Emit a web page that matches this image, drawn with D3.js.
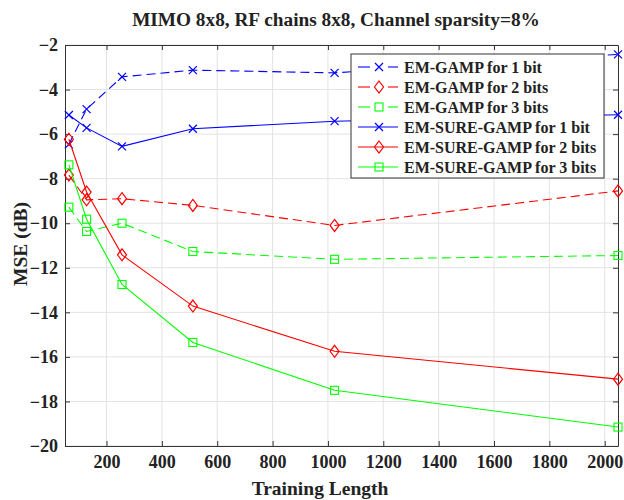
<!DOCTYPE html>
<html>
<head>
<meta charset="utf-8">
<script src="https://cdn.jsdelivr.net/npm/d3@7"></script>
<style>
  body { margin: 0; background: #fff; }
  text { font-family: "Liberation Serif", "Times New Roman", serif; font-weight: bold; fill: #222; }
</style>
</head>
<body>
<svg width="624" height="500"></svg>
<script>
const trainLen = [64, 128, 256, 512, 1024, 2048];
const gamp1 = [-6.46, -4.88, -3.43, -3.13, -3.25, -2.42];
const gamp2 = [-7.84, -8.95, -8.9, -9.2, -10.1, -8.55];
const gamp3 = [-9.28, -10.37, -10.0, -11.27, -11.62, -11.45];
const sure1 = [-5.14, -5.72, -6.55, -5.76, -5.42, -5.13];
const sure2 = [-6.23, -8.6, -11.42, -13.72, -15.75, -17.0];
const sure3 = [-7.38, -9.82, -12.75, -15.35, -17.5, -19.15];
const xTicks = [200, 400, 600, 800, 1000, 1200, 1400, 1600, 1800, 2000];
const yTicks = [-20, -18, -16, -14, -12, -10, -8, -6, -4, -2];

const series = [
    {name: "EM-GAMP for 1 bit", vals: gamp1, color: "#0000ff", dash: true, mark: "x"},
    {name: "EM-GAMP for 2 bits", vals: gamp2, color: "#ff0000", dash: true, mark: "d"},
    {name: "EM-GAMP for 3 bits", vals: gamp3, color: "#00ff00", dash: true, mark: "s"},
    {name: "EM-SURE-GAMP for 1 bit", vals: sure1, color: "#0000ff", dash: false, mark: "x"},
    {name: "EM-SURE-GAMP for 2 bits", vals: sure2, color: "#ff0000", dash: false, mark: "d"},
    {name: "EM-SURE-GAMP for 3 bits", vals: sure3, color: "#00ff00", dash: false, mark: "s"}
];

const mLeft = 65, mRight = 618, mTop = 45, mBottom = 446;
const svg = d3.select("svg");

const x = d3.scaleLinear().domain([50, 2048]).range([mLeft, mRight]);
const y = d3.scaleLinear().domain([-20, -2]).range([mBottom, mTop]);
const fmt = d3.format("d");

// grid
const g = svg.append("g");
g.selectAll(".gx").data(xTicks).enter().append("line")
    .attr("x1", d => x(d)).attr("x2", d => x(d))
    .attr("y1", mTop).attr("y2", mBottom)
    .attr("stroke", "#e3e3e3").attr("stroke-width", 1);
g.selectAll(".gy").data(yTicks).enter().append("line")
    .attr("y1", d => y(d)).attr("y2", d => y(d))
    .attr("x1", mLeft).attr("x2", mRight)
    .attr("stroke", "#e3e3e3").attr("stroke-width", 1);

// axes (ticks inside, box all around)
const axisStyle = (sel) => {
    sel.select(".domain").attr("stroke", "#333");
    sel.selectAll(".tick line").attr("stroke", "#333");
    sel.selectAll("text").attr("font-family", "Liberation Serif, serif")
        .attr("font-weight", "bold").attr("font-size", 18).attr("fill", "#222");
};
svg.append("g").attr("transform", `translate(0,${mBottom})`)
    .call(d3.axisBottom(x).tickValues(xTicks).tickFormat(fmt).tickSize(-5).tickSizeOuter(0).tickPadding(9))
    .call(axisStyle);
svg.append("g").attr("transform", `translate(0,${mTop})`)
    .call(d3.axisTop(x).tickValues(xTicks).tickSize(-5).tickSizeOuter(0).tickFormat(""))
    .call(axisStyle);
svg.append("g").attr("transform", `translate(${mLeft},0)`)
    .call(d3.axisLeft(y).tickValues(yTicks).tickFormat(fmt).tickSize(-5).tickSizeOuter(0).tickPadding(7))
    .call(axisStyle);
svg.append("g").attr("transform", `translate(${mRight},0)`)
    .call(d3.axisRight(y).tickValues(yTicks).tickSize(-5).tickSizeOuter(0).tickFormat(""))
    .call(axisStyle);

// markers
const drawMark = (sel, type, color) => {
    if (type === "x") {
        sel.append("path").attr("d", "M-4,-4L4,4M-4,4L4,-4")
            .attr("stroke", color).attr("fill", "none").attr("stroke-width", 1.2);
    } else if (type === "d") {
        sel.append("path").attr("d", "M0,-6L4.5,0L0,6L-4.5,0Z")
            .attr("stroke", color).attr("fill", "none").attr("stroke-width", 1.2);
    } else {
        sel.append("rect").attr("x", -4).attr("y", -4).attr("width", 8).attr("height", 8)
            .attr("stroke", color).attr("fill", "none").attr("stroke-width", 1.1);
    }
};

const line = d3.line().x((d, i) => x(trainLen[i])).y(d => y(d));

series.forEach(s => {
    svg.append("path").datum(s.vals)
        .attr("d", line)
        .attr("fill", "none")
        .attr("stroke", s.color)
        .attr("stroke-width", 1.1)
        .attr("stroke-dasharray", s.dash ? "9,5" : null);
    s.vals.forEach((v, i) => {
        const m = svg.append("g").attr("transform", `translate(${x(trainLen[i])},${y(v)})`);
        drawMark(m, s.mark, s.color);
    });
});

// legend
const lg = svg.append("g").attr("transform", "translate(351,54)");
lg.append("rect").attr("width", 253).attr("height", 124)
    .attr("fill", "#fff").attr("stroke", "#333").attr("stroke-width", 1);
series.forEach((s, i) => {
    const row = lg.append("g").attr("transform", `translate(0,${13 + i * 20})`);
    if (s.dash) {
        row.append("line").attr("x1", 7).attr("x2", 19).attr("y1", 0).attr("y2", 0)
            .attr("stroke", s.color).attr("stroke-width", 1.1);
        row.append("line").attr("x1", 37).attr("x2", 47).attr("y1", 0).attr("y2", 0)
            .attr("stroke", s.color).attr("stroke-width", 1.1);
    } else {
        row.append("line").attr("x1", 7).attr("x2", 47).attr("y1", 0).attr("y2", 0)
            .attr("stroke", s.color).attr("stroke-width", 1.1);
    }
    const m = row.append("g").attr("transform", "translate(28,0)");
    drawMark(m, s.mark, s.color);
    row.append("text").attr("x", 53).attr("y", 5.5)
        .attr("font-size", 16).text(s.name);
});

// title and labels
svg.append("text").attr("x", 336).attr("y", 26).attr("text-anchor", "middle")
    .attr("font-size", 19.3).text("MIMO 8x8, RF chains 8x8, Channel sparsity=8%");
svg.append("text").attr("x", 320).attr("y", 495).attr("text-anchor", "middle")
    .attr("font-size", 19.5).text("Training Length");
svg.append("text").attr("transform", "translate(27,244) rotate(-90)")
    .attr("text-anchor", "middle").attr("font-size", 19.5).text("MSE (dB)");
</script>
</body>
</html>
